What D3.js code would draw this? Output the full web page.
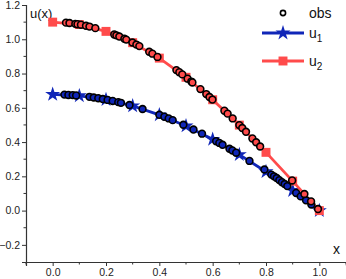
<!DOCTYPE html>
<html>
<head>
<meta charset="utf-8">
<script src="https://cdn.jsdelivr.net/npm/d3@7"></script>
<style>
  body { margin: 0; background: #fff; }
  svg { font-family: "Liberation Sans", Arial, sans-serif; }
</style>
</head>
<body>
<div id="chart"></div>
<script>
// line series, sampled every 0.1
const xGrid = [0, 0.1, 0.2, 0.3, 0.4, 0.5, 0.6, 0.7, 0.8, 0.9, 1.0];
const u1Vals = [0.678, 0.670, 0.648, 0.611, 0.559, 0.494, 0.416, 0.327, 0.227, 0.117, 0.0];
const u2Vals = [1.100, 1.086, 1.046, 0.980, 0.890, 0.778, 0.647, 0.499, 0.340, 0.172, 0.0];

// observations along u2
const obs2X = [0.05, 0.063, 0.085, 0.093, 0.106, 0.125, 0.138, 0.16, 0.231, 0.239, 0.25, 0.269, 0.276,
  0.299, 0.314, 0.325, 0.362, 0.374, 0.393, 0.464, 0.475, 0.486, 0.506, 0.52, 0.524, 0.554, 0.576,
  0.588, 0.599, 0.644, 0.656, 0.675, 0.70, 0.711, 0.725, 0.749, 0.763, 0.778, 0.898, 0.944, 0.969, 0.995];
const obs2Y = [1.097, 1.095, 1.090, 1.088, 1.085, 1.079, 1.074, 1.065, 1.028, 1.023, 1.016, 1.003, 0.998,
  0.981, 0.969, 0.960, 0.927, 0.916, 0.897, 0.820, 0.808, 0.795, 0.770, 0.753, 0.748, 0.709, 0.680,
  0.663, 0.648, 0.583, 0.566, 0.538, 0.499, 0.482, 0.460, 0.421, 0.399, 0.374, 0.176, 0.097, 0.054, 0.009];

// observations along u1
const obs1X = [0.044, 0.059, 0.075, 0.088, 0.138, 0.154, 0.171, 0.188, 0.206, 0.225, 0.246, 0.256,
  0.288, 0.337, 0.40, 0.419, 0.435, 0.45, 0.49, 0.528, 0.56, 0.613, 0.625, 0.637, 0.663, 0.674, 0.688,
  0.738, 0.794, 0.82, 0.83, 0.84, 0.85, 0.86, 0.87, 0.88, 0.913, 0.93, 0.95, 0.97];
const obs1Y = [0.677, 0.675, 0.674, 0.672, 0.664, 0.660, 0.656, 0.651, 0.646, 0.640, 0.633, 0.629,
  0.616, 0.593, 0.559, 0.548, 0.538, 0.528, 0.501, 0.473, 0.449, 0.405, 0.395, 0.384, 0.361, 0.351, 0.338,
  0.290, 0.240, 0.210, 0.200, 0.190, 0.178, 0.166, 0.155, 0.143, 0.103, 0.083, 0.060, 0.036];

const xTicks = [0.0, 0.2, 0.4, 0.6, 0.8, 1.0];
const yTicks = [-0.2, 0.0, 0.2, 0.4, 0.6, 0.8, 1.0, 1.2];

const width = 346, height = 279;
const blue = "#1026b8", red = "#ff4b4b";

const svg = d3.select("#chart").append("svg")
  .attr("width", width).attr("height", height);

const x = d3.scaleLinear().domain([-0.1, 1.1]).range([26, 346]);
const y = d3.scaleLinear().domain([-0.3, 1.2]).range([262, 5]);

// axes
const xAxis = d3.axisBottom(x).tickValues(xTicks).tickFormat(d3.format(".1f")).tickSize(4).tickPadding(3);
const yAxis = d3.axisLeft(y).tickValues(yTicks).tickFormat(d3.format(".1f")).tickSize(4).tickPadding(2);

const gx = svg.append("g").attr("transform", `translate(0,${y(-0.3)})`).call(xAxis);
const gy = svg.append("g").attr("transform", `translate(${x(-0.1)},0)`).call(yAxis);

[gx, gy].forEach(g => {
  g.select(".domain").attr("stroke", "#333").attr("stroke-width", 1.2);
  g.selectAll(".tick line").attr("stroke", "#333").attr("stroke-width", 1);
  g.selectAll(".tick text").attr("font-size", 10.5).attr("fill", "#222")
    .attr("font-family", "Liberation Sans, Arial, sans-serif");
});

// minor ticks
const minorX = d3.range(-0.1, 1.101, 0.2).map(v => +v.toFixed(2));
const minorY = d3.range(-0.1, 1.101, 0.2).map(v => +v.toFixed(2));
svg.append("g").selectAll("line").data(minorX).join("line")
  .attr("x1", d => x(d)).attr("x2", d => x(d))
  .attr("y1", y(-0.3)).attr("y2", y(-0.3) + 2.5)
  .attr("stroke", "#333");
svg.append("g").selectAll("line").data(minorY).join("line")
  .attr("y1", d => y(d)).attr("y2", d => y(d))
  .attr("x1", x(-0.1)).attr("x2", x(-0.1) - 2.5)
  .attr("stroke", "#333");

// axis titles
svg.append("text").attr("x", 30).attr("y", 18).attr("font-size", 13).attr("fill", "#111").text("u(x)");
svg.append("text").attr("x", 333).attr("y", 254).attr("font-size", 14).attr("fill", "#111").text("x");

const line = d3.line().x(d => x(d[0])).y(d => y(d[1]));
const u1 = xGrid.map((v, i) => [v, u1Vals[i]]);
const u2 = xGrid.map((v, i) => [v, u2Vals[i]]);

const star = d3.symbol().type(d3.symbolStar).size(70);
const square = d3.symbol().type(d3.symbolSquare).size(80);

// u1
svg.append("path").datum(u1).attr("d", line)
  .attr("fill", "none").attr("stroke", blue).attr("stroke-width", 2.8);
svg.append("g").selectAll("path").data(u1).join("path")
  .attr("d", star).attr("transform", d => `translate(${x(d[0])},${y(d[1])})`)
  .attr("fill", blue);

// u2
svg.append("path").datum(u2).attr("d", line)
  .attr("fill", "none").attr("stroke", red).attr("stroke-width", 2.8);
svg.append("g").selectAll("path").data(u2).join("path")
  .attr("d", square).attr("transform", d => `translate(${x(d[0])},${y(d[1])})`)
  .attr("fill", red);

// observations
svg.append("g").selectAll("circle").data(obs1X.map((v, i) => [v, obs1Y[i]])).join("circle")
  .attr("cx", d => x(d[0])).attr("cy", d => y(d[1])).attr("r", 3.4)
  .attr("fill", blue).attr("stroke", "#000").attr("stroke-width", 1.6);
svg.append("g").selectAll("circle").data(obs2X.map((v, i) => [v, obs2Y[i]])).join("circle")
  .attr("cx", d => x(d[0])).attr("cy", d => y(d[1])).attr("r", 3.4)
  .attr("fill", red).attr("stroke", "#000").attr("stroke-width", 1.6);

// legend
const lg = svg.append("g");
lg.append("circle").attr("cx", 283).attr("cy", 13).attr("r", 2.6)
  .attr("fill", "none").attr("stroke", "#000").attr("stroke-width", 1.6);
lg.append("text").attr("x", 309).attr("y", 18).attr("font-size", 14).attr("fill", "#111").text("obs");

lg.append("line").attr("x1", 262).attr("x2", 304).attr("y1", 33).attr("y2", 33)
  .attr("stroke", blue).attr("stroke-width", 2.8);
lg.append("path").attr("d", star).attr("transform", "translate(283,33)").attr("fill", blue);
const t1 = lg.append("text").attr("x", 309).attr("y", 38).attr("font-size", 14).attr("fill", "#111");
t1.append("tspan").text("u");
t1.append("tspan").attr("font-size", 10).attr("dy", 4).text("1");

lg.append("line").attr("x1", 262).attr("x2", 304).attr("y1", 61).attr("y2", 61)
  .attr("stroke", red).attr("stroke-width", 2.8);
lg.append("path").attr("d", square).attr("transform", "translate(283,61)").attr("fill", red);
const t2 = lg.append("text").attr("x", 309).attr("y", 66).attr("font-size", 14).attr("fill", "#111");
t2.append("tspan").text("u");
t2.append("tspan").attr("font-size", 10).attr("dy", 4).text("2");
</script>
</body>
</html>
